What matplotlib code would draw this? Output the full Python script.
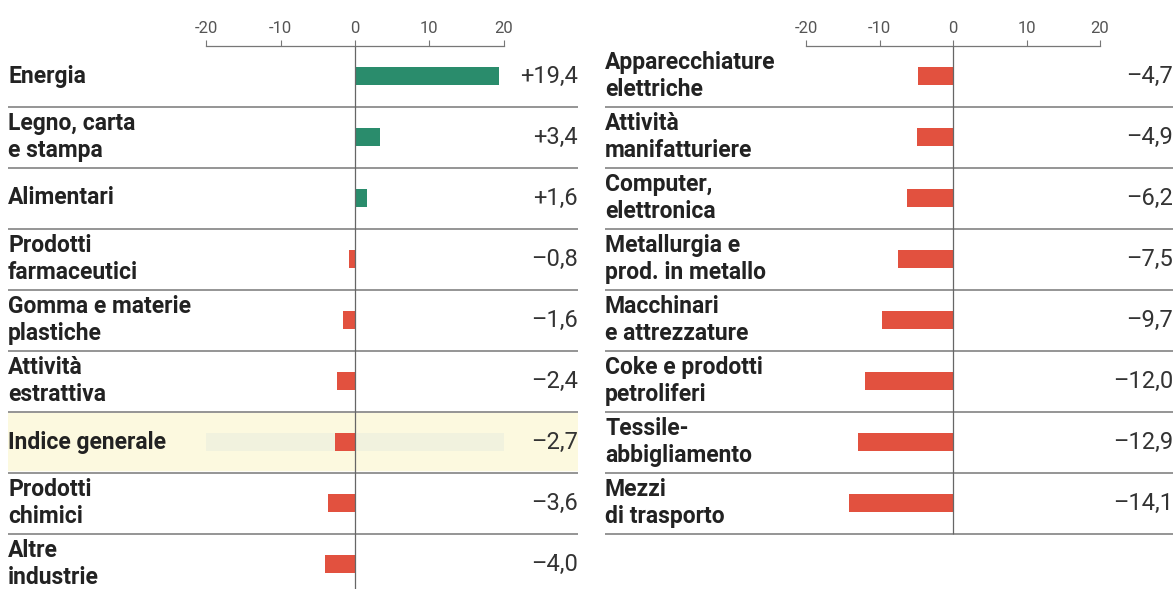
import matplotlib.pyplot as plt
import numpy as np

# variazione % per settore
left_labels = ['Energia', 'Legno, carta\ne stampa', 'Alimentari', 'Prodotti\nfarmaceutici',
               'Gomma e materie\nplastiche', 'Attività\nestrattiva', 'Indice generale',
               'Prodotti\nchimici', 'Altre\nindustrie']
left_values = [19.4, 3.4, 1.6, -0.8, -1.6, -2.4, -2.7, -3.6, -4.0]

right_labels = ['Apparecchiature\nelettriche', 'Attività\nmanifatturiere', 'Computer,\nelettronica',
                'Metallurgia e\nprod. in metallo', 'Macchinari\ne attrezzature',
                'Coke e prodotti\npetroliferi', 'Tessile-\nabbigliamento', 'Mezzi\ndi trasporto']
right_values = [-4.7, -4.9, -6.2, -7.5, -9.7, -12.0, -12.9, -14.1]

ticks = [-20, -10, 0, 10, 20]
highlight = 'Indice generale'

GREEN = '#2a8c6c'
RED = '#e2513f'
W, H = 1175, 589
row_px = 61.0
top_px = 45.5


def fmt(v):
    s = f'{abs(v):.1f}'.replace('.', ',')
    return ('+' if v > 0 else '\u2013') + s


def panel(fig, x0, x1, zero_px, scale, labels, values):
    # axes box in pixel coords, converted to figure fractions
    ax = fig.add_axes([x0 / W, 0, (x1 - x0) / W, (H - top_px) / H])
    ax.set_xlim((x0 - zero_px) / scale, (x1 - zero_px) / scale)
    ax.set_ylim((H - top_px) / row_px - 0.5, -0.5)
    n = len(values)
    ys = np.arange(n)
    for s in ['left', 'right', 'bottom']:
        ax.spines[s].set_visible(False)
    ax.spines['top'].set_bounds(-20, 20)
    ax.spines['top'].set_color('#777777')
    ax.spines['top'].set_linewidth(0.9)
    ax.xaxis.tick_top()
    ax.set_xticks(ticks)
    ax.set_xticklabels([str(t) for t in ticks], fontsize=12, color='#555555', family='Roboto')
    ax.tick_params(axis='x', length=4, width=0.8, color='#777777', pad=3)
    ax.set_yticks([])

    for y, lab, v in zip(ys, labels, values):
        if lab == highlight:
            ax.axhspan(y - 0.47, y + 0.46, color='#fcf9df', zorder=0)
            ax.barh(y, 40, left=-20, height=0.3, color='#f1f2de', zorder=1)
        ax.text(0.0, y, lab, transform=ax.get_yaxis_transform(), ha='left', va='center',
                fontsize=16.5, fontweight='bold', color='#222222', family='Roboto', linespacing=1.2)
        ax.text(1.0, y, fmt(v), transform=ax.get_yaxis_transform(), ha='right', va='center',
                fontsize=17, color='#333333', family='Roboto')
    ax.barh(ys, values, height=0.28, color=[GREEN if v > 0 else RED for v in values], zorder=3)
    for y in ys[:-1] + 0.5:
        ax.axhline(y, color='#8c8c8c', lw=1.3, zorder=2)
    if n < 9:
        ax.axhline(n - 0.5, color='#8c8c8c', lw=1.3, zorder=2)
        ax.vlines(0, -0.5, n - 0.5, color='#666666', lw=0.9, zorder=4)
    else:
        ax.vlines(0, -0.5, 9, color='#666666', lw=0.9, zorder=4)
    return ax


fig = plt.figure(figsize=(W / 100, H / 100), dpi=100)
panel(fig, 8, 578, 355, 7.43, left_labels, left_values)
panel(fig, 605, 1173, 953, 7.35, right_labels, right_values)
fig.savefig('out.png', dpi=100)
